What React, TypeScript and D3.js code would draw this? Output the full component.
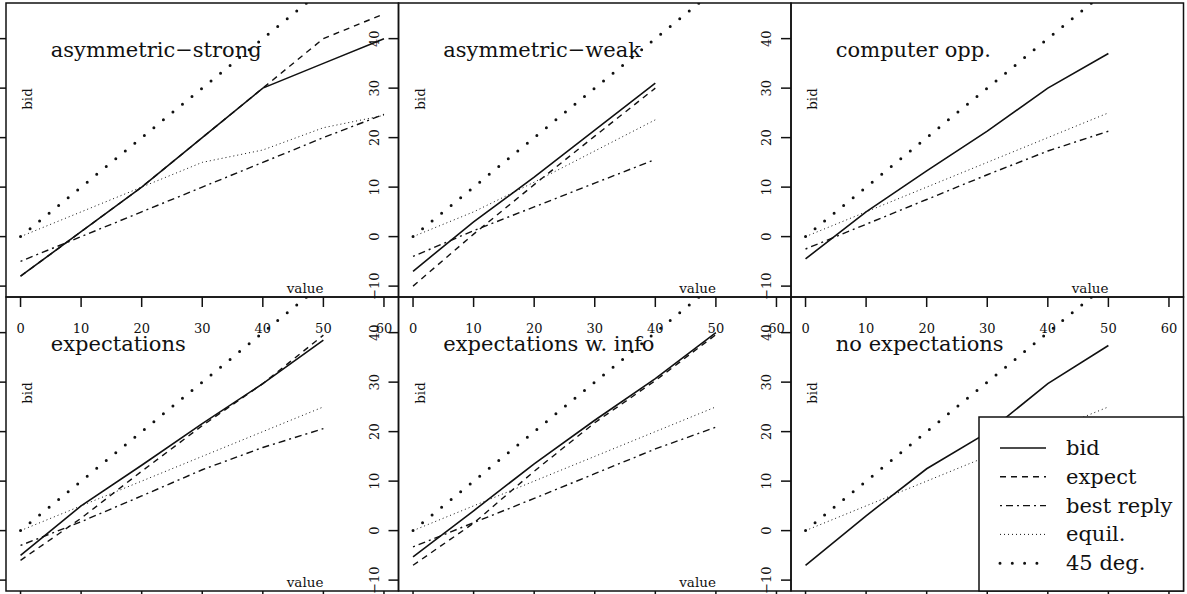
import React from "react";
import * as d3 from "d3";

// ---- data -------------------------------------------------------------
const valueTicks = [0, 10, 20, 30, 40, 50, 60];
const bidTicks = [-10, 0, 10, 20, 30, 40];

const panelTitles = [
  "asymmetric\u2212strong",
  "asymmetric\u2212weak",
  "computer opp.",
  "expectations",
  "expectations w. info",
  "no expectations",
];

const values60 = [0, 10, 20, 30, 40, 50, 60];
const values50 = [0, 10, 20, 30, 40, 50];
const values40 = [0, 10, 20, 30, 40];

// asymmetric-strong
const asymStrongBid = [-8, 1, 10, 20, 30, 35, 40];
const asymStrongExpect = [-8, 1, 10, 20, 30, 40, 45];
const asymStrongBest = [-5, 0, 5, 10, 15, 20, 24.7];
const asymStrongEquil = [0, 5, 10, 15, 17.5, 22, 24.5];

// asymmetric-weak
const asymWeakBid = [-7, 3, 12, 21.5, 31];
const asymWeakExpect = [-10, 0.5, 10.5, 20.3, 30];
const asymWeakBest = [-4, 1.2, 6, 10.8, 15.6];
const asymWeakEquil = [0, 5, 11, 17.3, 23.6];

// computer opponent
const computerBid = [-4.5, 5, 13.3, 21.3, 30, 37];
const computerBest = [-2.5, 2.5, 7.5, 12.5, 17.3, 21.3];
const computerEquil = [0, 5, 10, 15, 20, 25];

// expectations
const expectationsBid = [-5, 5, 13.2, 21.6, 29.7, 38.5];
const expectationsExpect = [-6, 2.5, 12, 21.2, 29.7, 39.5];
const expectationsBest = [-3, 1.8, 7, 12.3, 16.8, 20.6];
const expectationsEquil = [0, 5, 10, 15, 20, 25];

// expectations with info
const infoBid = [-5.3, 4, 13.5, 22.3, 30.7, 40];
const infoExpect = [-7, 1.5, 12, 21.8, 30.3, 39.6];
const infoBest = [-3.3, 1.6, 6.5, 11.5, 16.5, 20.9];
const infoEquil = [0, 5, 10, 15, 20, 25];

// no expectations
const noExpBid = [-7, 3, 12.5, 19.8, 29.7, 37.4];
const noExpEquil = [0, 5, 10, 15, 20, 25];

// 45 degree reference line
const diagonal = [0, 60];

const legendLabels = ["bid", "expect", "best reply", "equil.", "45 deg."];

// ---- styles -----------------------------------------------------------
type LineStyle = { width: number; dash?: string; cap?: "round" | "butt" };
const styles: Record<string, LineStyle> = {
  bid: { width: 1.6 },
  expect: { width: 1.4, dash: "6,5" },
  best: { width: 1.4, dash: "2,4,7,4" },
  equil: { width: 1, dash: "1,3" },
  diag: { width: 3, dash: "0,12.3", cap: "round" },
};
const legendKeys = ["bid", "expect", "best", "equil", "diag"];

type Series = { key: string; x: number[]; y: number[] };
type Panel = { title: string; series: Series[] };

const panels: Panel[] = [
  {
    title: panelTitles[0],
    series: [
      { key: "bid", x: values60, y: asymStrongBid },
      { key: "expect", x: values60, y: asymStrongExpect },
      { key: "best", x: values60, y: asymStrongBest },
      { key: "equil", x: values60, y: asymStrongEquil },
    ],
  },
  {
    title: panelTitles[1],
    series: [
      { key: "bid", x: values40, y: asymWeakBid },
      { key: "expect", x: values40, y: asymWeakExpect },
      { key: "best", x: values40, y: asymWeakBest },
      { key: "equil", x: values40, y: asymWeakEquil },
    ],
  },
  {
    title: panelTitles[2],
    series: [
      { key: "bid", x: values50, y: computerBid },
      { key: "best", x: values50, y: computerBest },
      { key: "equil", x: values50, y: computerEquil },
    ],
  },
  {
    title: panelTitles[3],
    series: [
      { key: "bid", x: values50, y: expectationsBid },
      { key: "expect", x: values50, y: expectationsExpect },
      { key: "best", x: values50, y: expectationsBest },
      { key: "equil", x: values50, y: expectationsEquil },
    ],
  },
  {
    title: panelTitles[4],
    series: [
      { key: "bid", x: values50, y: infoBid },
      { key: "expect", x: values50, y: infoExpect },
      { key: "best", x: values50, y: infoBest },
      { key: "equil", x: values50, y: infoEquil },
    ],
  },
  {
    title: panelTitles[5],
    series: [
      { key: "bid", x: values50, y: noExpBid },
      { key: "equil", x: values50, y: noExpEquil },
    ],
  },
];

// ---- layout -----------------------------------------------------------
const W = 1187;
const H = 594;
const colLeft = [6, 398.5, 791];
const rowTop = [3, 297];
const PW = 392.5;
const PH = 294;
const FONT = "'DejaVu Serif', serif";
const INK = "#111";

function PanelView({ panel, index }: { panel: Panel; index: number }) {
  const col = index % 3;
  const row = Math.floor(index / 3);
  const left = colLeft[col];
  const top = rowTop[row];
  const x = d3.scaleLinear().domain([-2.4, 62.4]).range([left, left + PW]);
  const y = d3.scaleLinear().domain([-12.2, 47.2]).range([top + PH, top]);
  const line = d3
    .line<[number, number]>()
    .x((d) => x(d[0]))
    .y((d) => y(d[1]));
  const clipId = `clip-${index}`;
  const bottom = top + PH;

  const all: Series[] = [...panel.series, { key: "diag", x: diagonal, y: diagonal }];

  return (
    <g>
      <defs>
        <clipPath id={clipId}>
          <rect x={left} y={top} width={PW} height={PH} />
        </clipPath>
      </defs>
      <g clipPath={`url(#${clipId})`}>
        {all.map((s, i) => {
          const st = styles[s.key];
          const pts = s.x.map((v, j) => [v, s.y[j]] as [number, number]);
          return (
            <path
              key={i}
              d={line(pts) || ""}
              fill="none"
              stroke={INK}
              strokeWidth={st.width}
              strokeDasharray={st.dash}
              strokeLinecap={st.cap || "butt"}
            />
          );
        })}
        <text x={x(5)} y={top + 54} fontFamily={FONT} fontSize={21} fill={INK}>
          {panel.title}
        </text>
        <text
          x={x(50)}
          y={bottom - 4}
          textAnchor="end"
          fontFamily={FONT}
          fontSize={13.5}
          fill={INK}
        >
          value
        </text>
        <text
          transform={`translate(${left + 26},${top + 96}) rotate(-90)`}
          textAnchor="middle"
          fontFamily={FONT}
          fontSize={13.5}
          fill={INK}
        >
          bid
        </text>
      </g>
      {/* frame */}
      <rect x={left} y={top} width={PW} height={PH} fill="none" stroke={INK} strokeWidth={1.5} />
      {/* x axis (below the panel) */}
      {valueTicks.map((t) => (
        <g key={`x${t}`}>
          <line x1={x(t)} x2={x(t)} y1={bottom} y2={bottom + 10} stroke={INK} strokeWidth={1.5} />
          <text
            x={x(t)}
            y={bottom + 36}
            textAnchor="middle"
            fontFamily={FONT}
            fontSize={13}
            fill={INK}
          >
            {t}
          </text>
        </g>
      ))}
      {/* y axis (left of the panel) */}
      {bidTicks.map((t) => (
        <g key={`y${t}`}>
          <line x1={left} x2={left - 10} y1={y(t)} y2={y(t)} stroke={INK} strokeWidth={1.5} />
          <text
            transform={`translate(${left - 20},${y(t)}) rotate(-90)`}
            textAnchor="middle"
            fontFamily={FONT}
            fontSize={13}
            fill={INK}
          >
            {t < 0 ? `\u2212${Math.abs(t)}` : t}
          </text>
        </g>
      ))}
    </g>
  );
}

function Legend() {
  const bx = 979;
  const by = 417;
  const bw = 1183.5 - bx;
  const bh = 591 - by;
  const y0 = 448;
  const step = 28.8;
  return (
    <g>
      <rect x={bx} y={by} width={bw} height={bh} fill="#fff" stroke={INK} strokeWidth={1.5} />
      {legendLabels.map((lab, i) => {
        const st = styles[legendKeys[i]];
        const yy = y0 + i * step;
        return (
          <g key={lab}>
            <line
              x1={1000}
              x2={1046}
              y1={yy}
              y2={yy}
              stroke={INK}
              strokeWidth={st.width}
              strokeDasharray={st.dash}
              strokeLinecap={st.cap || "butt"}
            />
            <text x={1066} y={yy + 7} fontFamily={FONT} fontSize={21} fill={INK}>
              {lab}
            </text>
          </g>
        );
      })}
    </g>
  );
}

export default function App() {
  return (
    <svg
      width={W}
      height={H}
      viewBox={`0 0 ${W} ${H}`}
      style={{ position: "absolute", left: 0, top: 0, background: "#fff" }}
    >
      <rect x={0} y={0} width={W} height={H} fill="#fff" />
      {panels.map((p, i) => (
        <PanelView key={i} panel={p} index={i} />
      ))}
      <Legend />
    </svg>
  );
}
